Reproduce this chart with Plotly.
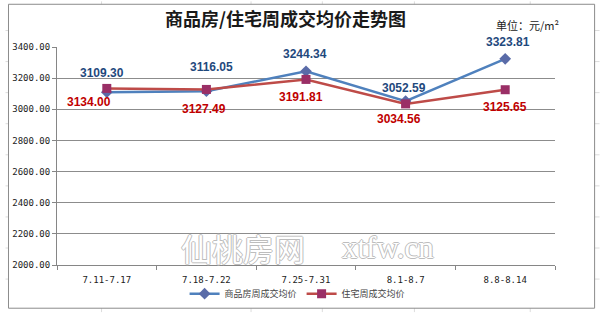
import plotly.graph_objects as go

categories = ["7.11-7.17", "7.18-7.22", "7.25-7.31", "8.1-8.7", "8.8-8.14"]
series_names = ["商品房周成交均价", "住宅周成交均价"]
commercial = [3109.30, 3116.05, 3244.34, 3052.59, 3323.81]
residential = [3134.00, 3127.49, 3191.81, 3034.56, 3125.65]
y_ticks = [2000, 2200, 2400, 2600, 2800, 3000, 3200, 3400]

# label offsets (style only, pixels)
blue_off = [(-5, 19), (5, 24), (-1, 17), (-2, 13), (3, 17)]
red_off = [(-18, -14), (-2, -20), (-5, -18), (-7, -15), (0, -17)]

W, H = 600, 320
L, R, T, B = 52, 45, 47, 48.5
pw, ph = W - L - R, H - T - B

def px(x):
    return (x - L) / pw

def py(y):
    return (H - B - y) / ph

fig = go.Figure()
fig.add_trace(go.Scatter(
    x=categories, y=commercial, name=series_names[0], mode="lines+markers",
    line=dict(color="#4F81BD", width=2.5),
    marker=dict(symbol="diamond", size=9, color="#5A6BA8"),
))
fig.add_trace(go.Scatter(
    x=categories, y=residential, name=series_names[1], mode="lines+markers",
    line=dict(color="#BE4B48", width=2.5),
    marker=dict(symbol="square", size=9, color="#9A2F66"),
))

ann = []
lab_font = "Liberation Sans, Arial, sans-serif"
for c, v, (dx, dy) in zip(categories, commercial, blue_off):
    ann.append(dict(x=c, y=v, text=f"{v:.2f}", showarrow=False, xshift=dx, yshift=dy,
                    font=dict(family=lab_font, size=12, color="#1F497D", weight="bold")))
for c, v, (dx, dy) in zip(categories, residential, red_off):
    ann.append(dict(x=c, y=v, text=f"{v:.2f}", showarrow=False, xshift=dx, yshift=dy,
                    font=dict(family=lab_font, size=12, color="#C00000", weight="bold")))

def pann(x, y, text, font):
    return dict(xref="paper", yref="paper", x=px(x), y=py(y), text=text, showarrow=False,
                xanchor="center", yanchor="middle", font=font)

# title and unit
ann.append(pann(283, 17, "商品房/住宅周成交均价走势图",
                dict(family="Noto Sans CJK SC", size=18, color="#1a1a1a", weight="bold")))
ann.append(pann(527, 24, "单位：元/m²", dict(family="Noto Sans CJK SC", size=11, color="#222")))

# watermark (outlined text)
outline = "1px 0 0 #bdbdbd, -1px 0 0 #bdbdbd, 0 1px 0 #bdbdbd, 0 -1px 0 #bdbdbd"
ann.append(pann(240, 253, "仙桃房网",
                dict(family="Noto Sans CJK SC", size=31, color="white", shadow=outline)))
ann.append(pann(386, 253, "xtfw.cn",
                dict(family="Liberation Serif", size=31, color="white", shadow=outline)))

shapes = []
# excel cell lines outside chart
for xv in [97, 248, 320, 413, 530]:
    shapes.append(dict(type="line", xref="paper", yref="paper", x0=px(xv), x1=px(xv), y0=py(0), y1=py(3),
                       line=dict(color="#dcdcdc", width=1), layer="below"))
    shapes.append(dict(type="line", xref="paper", yref="paper", x0=px(xv), x1=px(xv), y0=py(316), y1=py(320),
                       line=dict(color="#dcdcdc", width=1), layer="below"))
for yv in [30, 62, 94, 126, 158, 190, 222, 254, 286]:
    shapes.append(dict(type="line", xref="paper", yref="paper", x0=px(595), x1=px(600), y0=py(yv), y1=py(yv),
                       line=dict(color="#dcdcdc", width=1), layer="below"))
    shapes.append(dict(type="line", xref="paper", yref="paper", x0=px(0), x1=px(3), y0=py(yv), y1=py(yv),
                       line=dict(color="#dcdcdc", width=1), layer="below"))
# chart border
shapes.append(dict(type="rect", xref="paper", yref="paper", x0=px(3), x1=px(595), y0=py(316), y1=py(3),
                   line=dict(color="#8c8c8c", width=1), layer="below"))

fig.update_layout(
    width=W, height=H,
    margin=dict(l=L, r=R, t=T, b=B),
    paper_bgcolor="white", plot_bgcolor="white",
    showlegend=True,
    legend=dict(orientation="h", x=px(295), y=py(301), xanchor="center", yanchor="middle",
                font=dict(family="Noto Sans CJK SC", size=9, color="#444"),
                itemwidth=30, tracegroupgap=0, bgcolor="rgba(0,0,0,0)"),
    annotations=ann,
    shapes=shapes,
    xaxis=dict(type="category", showgrid=False, showline=True, linecolor="#868686", linewidth=1,
               ticks="outside", tickson="boundaries", ticklen=4, tickcolor="#868686",
               ticklabelstandoff=6,
               tickfont=dict(family="DejaVu Sans Mono", size=9, color="#222"),
               fixedrange=True, range=[-0.5, 4.5]),
    yaxis=dict(range=[2000, 3400], tickvals=y_ticks, ticktext=[f"{v:.2f}" for v in y_ticks],
               showgrid=True, gridcolor="#8c8c8c", gridwidth=1, showline=True, linecolor="#868686",
               ticks="outside", ticklen=4, tickcolor="#868686", zeroline=False,
               tickfont=dict(family="DejaVu Sans Mono", size=9, color="#222")),
)

fig.write_html("out.html")
